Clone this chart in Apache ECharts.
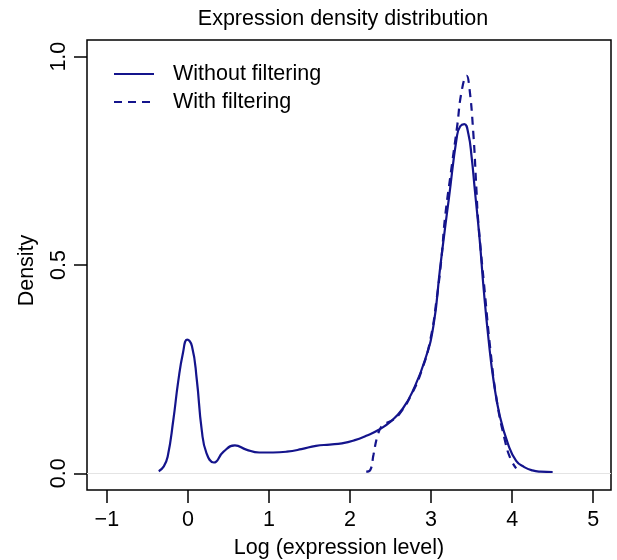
<!DOCTYPE html>
<html>
<head>
<meta charset="utf-8">
<script src="https://cdn.jsdelivr.net/npm/echarts/dist/echarts.min.js"></script>
<style>
  html, body { margin: 0; padding: 0; background: #fff; }
  #density-chart { width: 617px; height: 560px; }
</style>
</head>
<body>
<div id="density-chart"></div>
<script>
// density curves: [log expression, density]
var withoutFiltering = [
  [-0.36, 0.005], [-0.30, 0.016], [-0.25, 0.04], [-0.18, 0.128], [-0.12, 0.22],
  [-0.06, 0.29], [-0.01, 0.321], [0.05, 0.305], [0.11, 0.224], [0.17, 0.105],
  [0.23, 0.048], [0.32, 0.026], [0.44, 0.052], [0.58, 0.067], [0.72, 0.057],
  [0.88, 0.05], [1.05, 0.05], [1.22, 0.052], [1.40, 0.058], [1.58, 0.066],
  [1.75, 0.069], [1.90, 0.072], [2.05, 0.079], [2.20, 0.09], [2.35, 0.104],
  [2.50, 0.124], [2.65, 0.155], [2.78, 0.20], [2.93, 0.275], [3.03, 0.355],
  [3.11, 0.49], [3.17, 0.585], [3.22, 0.66], [3.32, 0.81], [3.36, 0.833],
  [3.41, 0.838], [3.46, 0.815], [3.50, 0.76], [3.54, 0.68], [3.60, 0.56],
  [3.65, 0.44], [3.71, 0.32], [3.77, 0.224], [3.85, 0.136], [3.95, 0.07],
  [4.05, 0.03], [4.15, 0.015], [4.25, 0.007], [4.35, 0.004], [4.50, 0.003]
]
var withFiltering = [
  [2.20, 0.004], [2.25, 0.008], [2.29, 0.045], [2.34, 0.09], [2.40, 0.115],
  [2.50, 0.125], [2.60, 0.14], [2.76, 0.19], [2.89, 0.25], [2.99, 0.32],
  [3.07, 0.42], [3.13, 0.52], [3.17, 0.61], [3.25, 0.73], [3.32, 0.83],
  [3.38, 0.92], [3.44, 0.954], [3.47, 0.93], [3.52, 0.82], [3.56, 0.68],
  [3.58, 0.61], [3.67, 0.42], [3.73, 0.30], [3.81, 0.176], [3.91, 0.08],
  [3.98, 0.035], [4.05, 0.012]
]
var seriesNames = ['Without filtering', 'With filtering']
var xTicks = [-1, 0, 1, 2, 3, 4, 5]
var yTicks = [0, 0.5, 1]

var font = "'Liberation Sans', Arial, sans-serif"
var lineColor = '#14148c'

var chart = echarts.init(document.getElementById('density-chart'))
var option = {
  animation: false,
  textStyle: { fontFamily: font },
  title: {
    text: 'Expression density distribution',
    left: 343,
    textAlign: 'center',
    top: 8,
    padding: 0,
    textStyle: { fontFamily: font, fontSize: 21.5, fontWeight: 'normal', color: '#000' }
  },
  legend: {
    data: seriesNames,
    orient: 'vertical',
    left: 113,
    top: 60,
    padding: 0,
    itemWidth: 40,
    itemHeight: 14,
    itemGap: 0,
    itemStyle: { opacity: 0 },
    textStyle: {
      fontFamily: font,
      fontSize: 21.5,
      color: '#000',
      lineHeight: 28,
      padding: [0, 0, 0, 14]
    }
  },
  grid: {
    left: 87,
    right: 6,
    top: 40,
    bottom: 70,
    outerBoundsMode: 'none',
    show: true,
    borderColor: '#000',
    borderWidth: 1.5,
    backgroundColor: 'transparent'
  },
  xAxis: {
    type: 'value',
    min: -1.245,
    max: 5.22,
    name: 'Log (expression level)',
    nameLocation: 'middle',
    nameGap: 47,
    nameTextStyle: { fontFamily: font, fontSize: 21.5, color: '#000', padding: [0, 20, 0, 0] },
    axisLine: { show: false, onZero: false },
    splitLine: { show: false },
    axisTick: {
      show: true,
      length: 13,
      customValues: xTicks,
      lineStyle: { color: '#000', width: 1.5 }
    },
    axisLabel: {
      customValues: xTicks,
      margin: 19,
      fontFamily: font,
      fontSize: 21.5,
      color: '#000',
      formatter: function (v) {
        return v < 0 ? '\u2212' + Math.abs(v) : String(v)
      }
    }
  },
  yAxis: {
    type: 'value',
    min: -0.04,
    max: 1.04,
    name: 'Density',
    nameLocation: 'middle',
    nameRotate: 90,
    nameGap: 49,
    nameTextStyle: { fontFamily: font, fontSize: 21.5, color: '#000', padding: [0, 11, 0, 0] },
    axisLine: { show: false, onZero: false },
    splitLine: { show: false },
    axisTick: {
      show: true,
      length: 13,
      customValues: yTicks,
      lineStyle: { color: '#000', width: 1.5 }
    },
    axisLabel: {
      customValues: yTicks,
      rotate: 90,
      margin: 17,
      fontFamily: font,
      fontSize: 21.5,
      color: '#000',
      formatter: function (v) {
        return v.toFixed(1)
      }
    }
  },
  series: [{
    name: seriesNames[0],
    type: 'line',
    data: withoutFiltering,
    symbol: 'none',
    smooth: 0.5,
    lineStyle: { color: lineColor, width: 2.2 },
    itemStyle: { color: lineColor },
    markLine: {
      silent: true,
      symbol: ['none', 'none'],
      label: { show: false },
      lineStyle: { color: '#e4e4e4', width: 1, type: 'solid' },
      data: [{ yAxis: 0 }]
    },
    z: 3
  },
  {
    name: seriesNames[1],
    type: 'line',
    data: withFiltering,
    symbol: 'none',
    smooth: 0.5,
    lineStyle: { color: lineColor, width: 2.2, type: [8, 6] },
    itemStyle: { color: lineColor },
    z: 4
  }]
}
chart.setOption(option)
</script>
</body>
</html>
